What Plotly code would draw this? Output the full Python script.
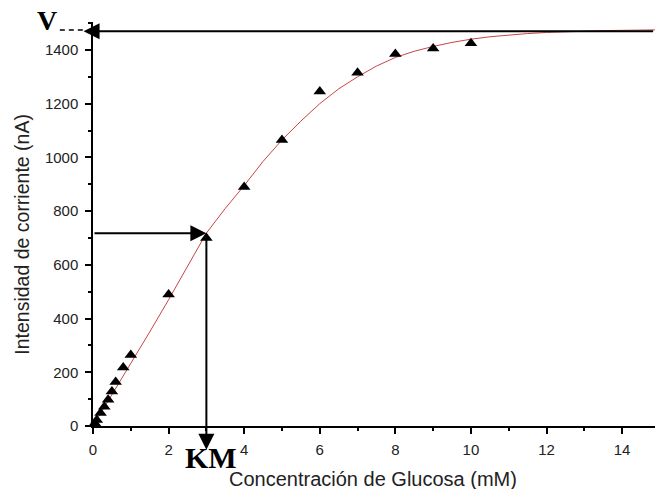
import plotly.graph_objects as go

# Measured points (triangles)
conc = [0.05, 0.1, 0.2, 0.3, 0.4, 0.5, 0.6, 0.8, 1, 2, 3, 4, 5, 6, 7, 8, 9, 10]
current = [10, 22, 48, 72, 98, 128, 164, 218, 264, 490, 700, 890, 1065, 1245, 1315, 1385, 1405, 1425]

# Fitted curve
fit_x = [0, 0.5, 1, 1.5, 2, 2.5, 3, 3.5, 4, 4.5, 5, 5.5, 6, 6.5, 7, 7.5, 8, 8.5, 9, 9.5,
         10, 10.5, 11, 11.5, 12, 12.5, 13, 13.5, 14, 14.5, 15]
fit_y = [0, 115, 235, 350, 470, 595, 718, 810, 895, 985, 1065, 1135, 1200, 1255, 1300, 1340,
         1372, 1395, 1413, 1428, 1440, 1449, 1456, 1461, 1465, 1468, 1470, 1472, 1473, 1474, 1475]

vmax = 1470
km = 3
km_y = 718

x_ticks = [0, 2, 4, 6, 8, 10, 12, 14]
y_ticks = [0, 200, 400, 600, 800, 1000, 1200, 1400]

fig = go.Figure()
fig.add_trace(go.Scatter(x=fit_x, y=fit_y, mode="lines",
                         line=dict(color="rgb(200,70,70)", width=1), showlegend=False))
fig.add_trace(go.Scatter(x=conc, y=current, mode="markers",
                         marker=dict(symbol="triangle-up", size=11, color="black"),
                         showlegend=False, cliponaxis=False))

arrow = dict(text="", showarrow=True, arrowhead=2, arrowsize=1.6, arrowwidth=2,
             arrowcolor="black", xref="x", yref="y", axref="x", ayref="y")
fig.add_annotation(x=-0.25, y=vmax, ax=14.86, ay=vmax, **arrow)
fig.add_annotation(x=km, y=km_y, ax=0, ay=km_y, **arrow)
fig.add_annotation(x=km, y=-88, ax=km, ay=km_y, **arrow)

fig.add_annotation(text="<b>V</b>", x=-0.104, y=1.048, xref="paper", yref="paper",
                   xanchor="left", yanchor="top", showarrow=False,
                   font=dict(family="Liberation Serif", size=28, color="black"))
fig.add_annotation(text="<b>KM</b>", x=0.21, y=-0.031, xref="paper", yref="paper",
                   xanchor="center", yanchor="top", showarrow=False,
                   font=dict(family="Liberation Serif", size=30, color="black"))
# white strip trimming the lower part of the KM label, as in the original
fig.add_annotation(text=" ", x=0.15, y=-0.104, xref="paper", yref="paper",
                   xanchor="left", yanchor="top", showarrow=False, width=66, height=24,
                   bgcolor="white", borderpad=0)

fig.add_shape(type="line", xref="paper", yref="paper", x0=-0.059, x1=-0.016, y0=0.98, y1=0.98,
              line=dict(color="black", width=1.5, dash="5px,4px"))

title_font = dict(family="Liberation Sans", color="#222")
fig.add_annotation(text="Concentración de Glucosa (mM)", x=0.499, y=-0.132, xref="paper",
                   yref="paper", xanchor="center", yanchor="middle", showarrow=False,
                   font=dict(size=20, **title_font))
fig.add_annotation(text="Intensidad de corriente (nA)", x=-0.127, y=0.475, xref="paper",
                   yref="paper", xanchor="center", yanchor="middle", showarrow=False,
                   textangle=-90, font=dict(size=19.5, **title_font))

fig.update_layout(
    width=655, height=489,
    margin=dict(l=93, r=0, t=22, b=63),
    paper_bgcolor="white", plot_bgcolor="white",
    font=dict(family="Liberation Sans", size=15, color="#222"),
    xaxis=dict(range=[0, 14.87], tickvals=x_ticks, ticks="outside", ticklen=6, tickwidth=1.5,
               tickcolor="black", showline=True, linecolor="black", linewidth=1.5,
               showgrid=False, zeroline=False, ticklabelstandoff=3,
               minor=dict(ticks="outside", ticklen=3, dtick=1, tickcolor="black")),
    yaxis=dict(range=[0, 1504], tickvals=y_ticks, ticks="outside", ticklen=6, tickwidth=1.5,
               tickcolor="black", showline=True, linecolor="black", linewidth=1.5,
               showgrid=False, zeroline=False, ticklabelstandoff=4,
               minor=dict(ticks="outside", ticklen=3, dtick=100, tickcolor="black")),
)

fig.write_html("out.html")
